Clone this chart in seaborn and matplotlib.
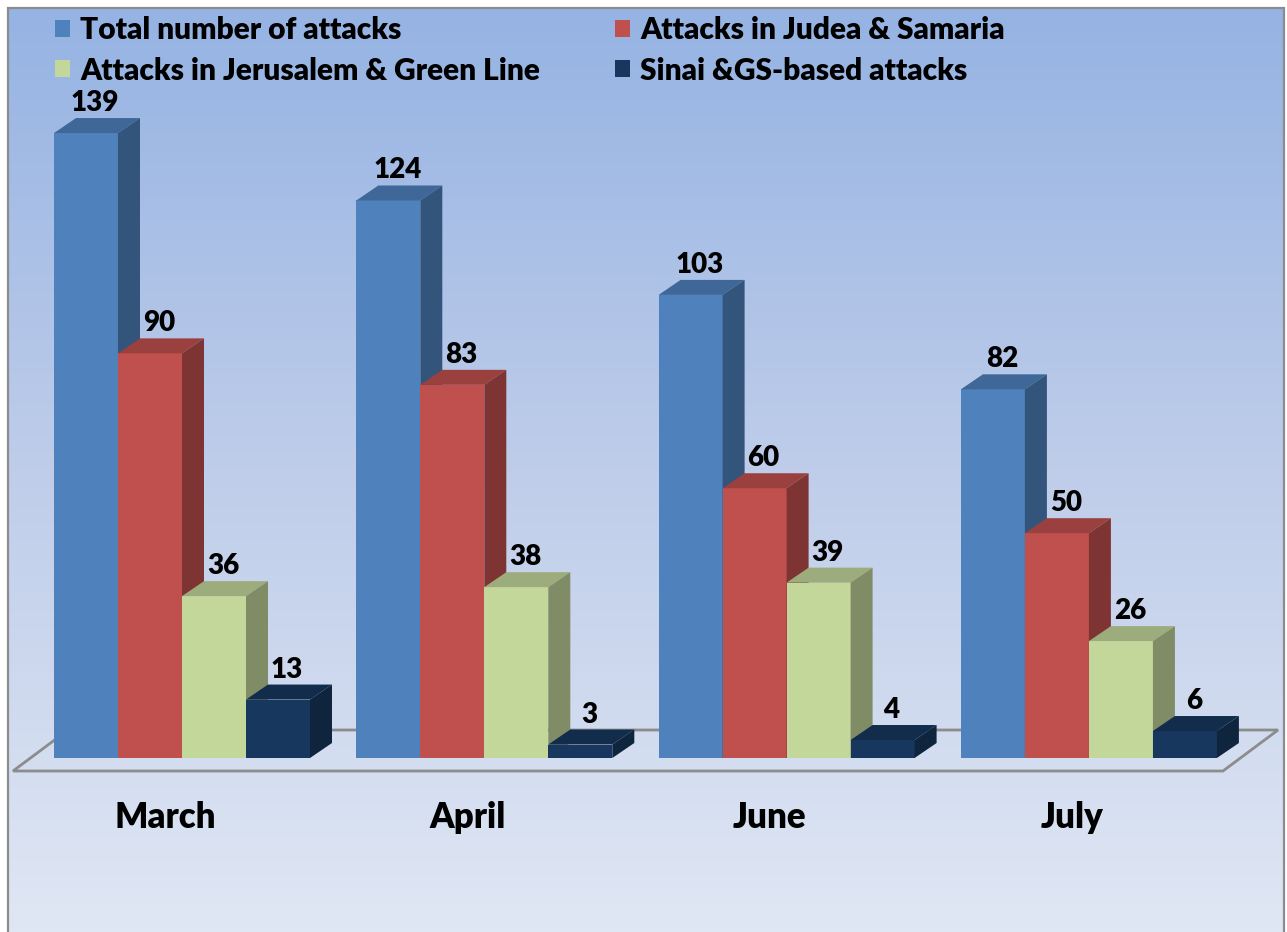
import numpy as np
import pandas as pd
import matplotlib
matplotlib.use("Agg")
import matplotlib.pyplot as plt
import seaborn as sns
from matplotlib.patches import Polygon, Rectangle, Patch
from matplotlib.colors import LinearSegmentedColormap, to_rgb

months = ["March", "April", "June", "July"]
series = ["Total number of attacks", "Attacks in Judea & Samaria",
          "Attacks in Jerusalem & Green Line", "Sinai &GS-based attacks"]
total = [139, 124, 103, 82]
judea = [90, 83, 60, 50]
jerusalem = [36, 38, 39, 26]
sinai = [13, 3, 4, 6]
colors = ["#4f81bd", "#c0504d", "#c4d79b", "#17375e"]

W, H = 1287, 932
sns.set_theme(style="white")
plt.rcParams["font.family"] = ["Lato", "DejaVu Sans"]
plt.rcParams["font.weight"] = "heavy"
plt.rcParams["text.color"] = "black"

rows = []
for s, vals in zip(series, [total, judea, jerusalem, sinai]):
    for m, v in zip(months, vals):
        rows.append({"month": m, "series": s, "value": v})
df = pd.DataFrame(rows)

fig = plt.figure(figsize=(W / 100, H / 100), dpi=100, facecolor="white")
ax = fig.add_axes([0, 0, 1, 1])

# pixel <-> data mapping (layout)
X0_PX, GROUP_PX = 182, 302.3
BASE_PX, UNIT_PX = 758, 4.496
def px2x(px):
    return (px - X0_PX) / GROUP_PX
def px2y(py):
    return (BASE_PX - py) / UNIT_PX

sns.barplot(data=df, x="month", y="value", hue="series", order=months,
            hue_order=series, palette=colors, width=256 / GROUP_PX,
            saturation=1, linewidth=0, errorbar=None, legend=False, ax=ax)

# background gradient and frame
cmap = LinearSegmentedColormap.from_list("bg", ["#95b3e3", "#bfcdea", "#e0e7f4"])
grad = np.linspace(0, 1, 256).reshape(-1, 1)
ax.imshow(grad, cmap=cmap, extent=[8 / W, 1284 / W, 0, (H - 8) / H],
          transform=ax.transAxes, aspect="auto", zorder=0)
ax.add_patch(Rectangle((8 / W, -0.01), (1284 - 8) / W, (H - 8) / H + 0.01,
                       transform=ax.transAxes, facecolor="none",
                       edgecolor="#8c8c8c", lw=1.6, zorder=1, clip_on=False))
ax.set_xlim(px2x(0), px2x(W))
ax.set_ylim(px2y(H), px2y(0))
ax.axis("off")

# floor
floor_px = [(13, 771), (1223, 771), (1278, 730), (68, 730)]
ax.add_patch(Polygon([(px2x(a), px2y(b)) for a, b in floor_px], closed=True,
                     facecolor="none", edgecolor="#8c8c8c", lw=2, zorder=3))

DX = 22 / GROUP_PX
DY = 15 / UNIT_PX
for i, cont in enumerate(ax.containers):
    base = np.array(to_rgb(colors[i]))
    side_c = base * 0.65
    top_c = base * 0.8
    for bar in cont:
        bar.set_zorder(10 + i)
        x0, w, h = bar.get_x(), bar.get_width(), bar.get_height()
        ax.add_patch(Polygon([(x0, h), (x0 + w, h), (x0 + w + DX, h + DY), (x0 + DX, h + DY)],
                             closed=True, facecolor=top_c, edgecolor="none", zorder=10 + i))
        ax.add_patch(Polygon([(x0 + w, 0), (x0 + w + DX, DY), (x0 + w + DX, h + DY), (x0 + w, h)],
                             closed=True, facecolor=side_c, edgecolor="none", zorder=10 + i))
        ax.annotate(f"{int(round(h))}", xy=(x0 + w / 2, h), xytext=(9, 30),
                    textcoords="offset pixels", ha="center", va="center",
                    fontsize=20, fontweight="heavy", color="black", zorder=30)

for j, m in enumerate(months):
    ax.text(j - 17 / GROUP_PX, px2y(818), m, ha="center", va="center",
            fontsize=25, fontweight="heavy", color="black", zorder=30)

handles = [Patch(facecolor=c, edgecolor="none") for c in colors]
order = [0, 2, 1, 3]
fig.legend([handles[k] for k in order], [series[k] for k in order],
           ncol=2, loc="upper left", bbox_to_anchor=(55 / W, 1 - 16 / H),
           frameon=False, borderpad=0, borderaxespad=0, handlelength=0.5,
           handleheight=0.5, handletextpad=0.35, columnspacing=2.5,
           labelspacing=0.42, labelcolor="black",
           prop={"weight": "heavy", "size": 21.5})

fig.savefig("out.png", dpi=100, facecolor="white")
